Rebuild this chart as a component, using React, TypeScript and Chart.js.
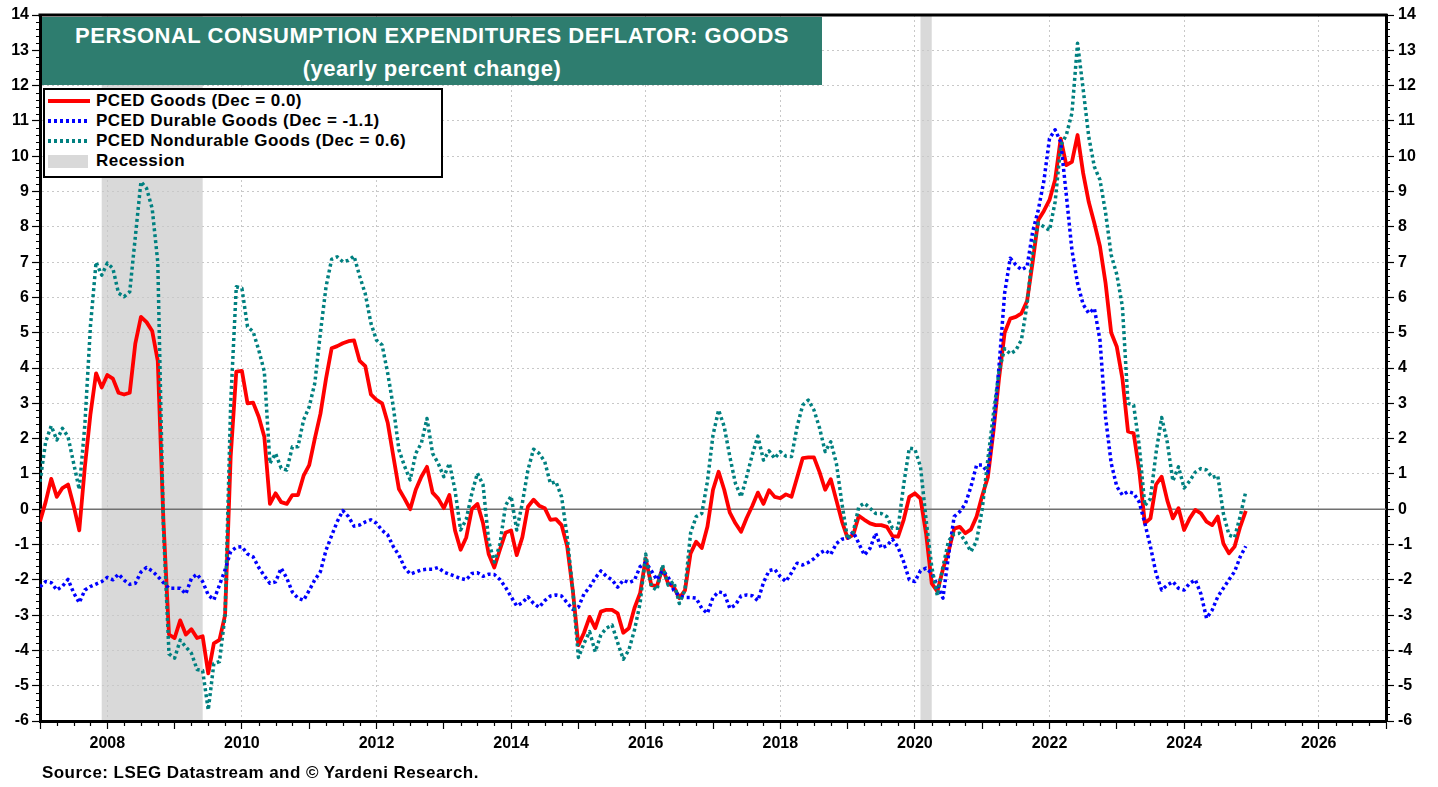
import React, { useEffect, useRef } from "react";
import { Chart, registerables } from "chart.js";

Chart.register(...registerables);

// ---- data (monthly, Jan 2007 .. Dec 2024) ----
const FIRST_YEAR = 2007;

const goods: number[] = [
  // 2007
  -0.35, 0.2, 0.86, 0.35, 0.6, 0.7, 0.1, -0.6, 1.2, 2.7, 3.85, 3.45,
  // 2008
  3.8, 3.7, 3.3, 3.25, 3.3, 4.7, 5.45, 5.3, 5.05, 4.2, -0.3, -3.55,
  // 2009
  -3.65, -3.15, -3.55, -3.4, -3.65, -3.6, -4.65, -3.8, -3.7, -3.0, 1.5, 3.9,
  // 2010
  3.92, 3.0, 3.02, 2.62, 2.05, 0.15, 0.45, 0.2, 0.15, 0.4, 0.4, 0.95,
  // 2011
  1.25, 2.0, 2.7, 3.7, 4.56, 4.62, 4.7, 4.76, 4.78, 4.2, 4.05, 3.25,
  // 2012
  3.1, 3.0, 2.45, 1.5, 0.57, 0.3, 0.0, 0.55, 0.92, 1.2, 0.47, 0.3,
  // 2013
  0.03, 0.4, -0.6, -1.15, -0.8, 0.0, 0.15, -0.4, -1.27, -1.65, -1.15, -0.67,
  // 2014
  -0.6, -1.3, -0.8, 0.07, 0.27, 0.1, 0.03, -0.3, -0.28, -0.45, -1.05, -2.3,
  // 2015
  -3.85, -3.5, -3.05, -3.37, -2.9, -2.85, -2.85, -2.95, -3.5, -3.37, -2.8, -2.38,
  // 2016
  -1.4, -2.15, -2.18, -1.67, -2.1, -2.2, -2.52, -2.3, -1.25, -0.92, -1.1, -0.5,
  // 2017
  0.55, 1.06, 0.55, -0.1, -0.4, -0.64, -0.25, 0.09, 0.47, 0.15, 0.54, 0.35,
  // 2018
  0.31, 0.42, 0.35, 0.9, 1.45, 1.47, 1.47, 1.05, 0.55, 0.85, 0.25, -0.35,
  // 2019
  -0.82, -0.73, -0.19, -0.3, -0.4, -0.45, -0.45, -0.5, -0.76, -0.78, -0.3, 0.35,
  // 2020
  0.45, 0.3, -0.7, -2.1, -2.33, -1.7, -1.2, -0.55, -0.5, -0.68, -0.57, -0.21,
  // 2021
  0.38, 0.9, 2.2, 3.7, 5.0, 5.4, 5.45, 5.55, 5.9, 7.0, 8.19, 8.45,
  // 2022
  8.76, 9.33, 10.5, 9.75, 9.84, 10.6, 9.52, 8.7, 8.1, 7.44, 6.4, 5.0,
  // 2023
  4.6, 3.7, 2.2, 2.15, 1.1, -0.4, -0.26, 0.7, 0.92, 0.25, -0.26, 0.03,
  // 2024
  -0.59, -0.26, -0.02, -0.12, -0.35, -0.45, -0.21, -0.97, -1.25, -1.06, -0.5, -0.05,
];

const durable: number[] = [
  // 2007
  -2.2, -2.05, -2.08, -2.29, -2.18, -1.99, -2.37, -2.65, -2.29, -2.19, -2.12, -2.05,
  // 2008
  -1.93, -2.0, -1.84, -2.01, -2.13, -2.1, -1.78, -1.65, -1.75, -1.9, -2.08, -2.24,
  // 2009
  -2.24, -2.24, -2.4, -1.96, -1.84, -2.05, -2.43, -2.57, -2.15, -1.72, -1.2, -1.08,
  // 2010
  -1.06, -1.27, -1.35, -1.65, -1.89, -2.1, -2.06, -1.67, -1.95, -2.35, -2.52, -2.58,
  // 2011
  -2.3, -2.0, -1.77, -1.16, -0.75, -0.35, -0.04, -0.21, -0.48, -0.45, -0.36, -0.3,
  // 2012
  -0.4, -0.6, -0.73, -1.06, -1.3, -1.65, -1.84, -1.78, -1.72, -1.7, -1.7, -1.65,
  // 2013
  -1.78, -1.84, -1.9, -1.96, -2.0, -1.82, -1.8, -1.9, -1.84, -1.85, -1.99, -2.21,
  // 2014
  -2.48, -2.74, -2.65, -2.48, -2.67, -2.78, -2.59, -2.46, -2.43, -2.46, -2.65, -2.84,
  // 2015
  -2.78, -2.4, -2.21, -1.95, -1.75, -1.9, -2.0, -2.21, -2.01, -2.08, -2.01, -1.63,
  // 2016
  -1.51, -1.74, -2.0, -1.74, -1.91, -2.3, -2.45, -2.5, -2.5, -2.52, -2.81, -2.95,
  // 2017
  -2.5, -2.34, -2.38, -2.81, -2.71, -2.46, -2.43, -2.45, -2.59, -2.08, -1.74, -1.7,
  // 2018
  -1.91, -2.05, -1.8, -1.53, -1.58, -1.51, -1.4, -1.25, -1.16, -1.28, -0.97, -0.85,
  // 2019
  -0.82, -0.64, -0.97, -1.3, -1.11, -0.68, -1.1, -1.04, -0.85, -1.08, -1.49, -2.0,
  // 2020
  -2.05, -1.74, -1.67, -1.82, -2.15, -2.52, -1.3, -0.21, -0.07, 0.15, 0.64, 1.25,
  // 2021
  1.25, 1.04, 2.3, 4.04, 6.12, 7.11, 6.92, 6.78, 6.87, 7.86, 8.48, 9.3,
  // 2022
  10.5, 10.75, 10.4, 8.9, 7.34, 6.4, 5.8, 5.55, 5.69, 4.79, 2.6, 1.3,
  // 2023
  0.64, 0.4, 0.5, 0.45, 0.2, -0.4, -1.06, -1.82, -2.29, -2.15, -2.05, -2.24,
  // 2024
  -2.29, -2.1, -2.0, -2.4, -3.09, -2.86, -2.48, -2.24, -2.0, -1.77, -1.35, -1.05,
];

const nondurable: number[] = [
  // 2007
  0.78, 1.9, 2.36, 1.96, 2.29, 2.05, 1.3, 0.56, 2.4, 5.2, 7.0, 6.63,
  // 2008
  6.97, 6.82, 6.12, 6.02, 6.16, 7.72, 9.28, 9.09, 8.52, 7.0, -0.5, -4.1,
  // 2009
  -4.22, -3.71, -3.9, -4.08, -4.54, -4.57, -5.69, -4.37, -4.32, -3.0, 3.0, 6.3,
  // 2010
  6.26, 5.17, 5.03, 4.51, 3.9, 1.3, 1.58, 1.16, 1.11, 1.77, 1.77, 2.53,
  // 2011
  2.9, 3.57, 5.0, 6.3, 7.08, 7.15, 7.01, 7.05, 7.17, 6.6, 6.1, 5.27,
  // 2012
  4.79, 4.65, 3.85, 2.9, 1.68, 1.22, 0.83, 1.58, 1.87, 2.57, 1.58, 1.3,
  // 2013
  0.92, 1.3, 0.54, -0.59, -0.29, 0.45, 1.02, 0.69, -0.9, -1.5, -1.0, 0.1,
  // 2014
  0.37, -0.59, 0.17, 1.11, 1.7, 1.58, 1.35, 0.73, 0.78, 0.35, -0.78, -2.3,
  // 2015
  -4.2, -3.8, -3.47, -4.04, -3.56, -3.37, -3.28, -3.78, -4.25, -3.99, -3.42, -2.67,
  // 2016
  -1.27, -2.19, -2.29, -1.58, -2.15, -2.05, -2.67, -2.29, -0.68, -0.21, -0.12, 0.78,
  // 2017
  2.1, 2.81, 2.34, 1.49, 0.73, 0.35, 0.92, 1.54, 2.07, 1.39, 1.65, 1.44,
  // 2018
  1.63, 1.5, 1.49, 2.34, 2.95, 3.09, 2.81, 2.3, 1.63, 1.91, 1.3, 0.15,
  // 2019
  -0.85, -0.65, 0.07, 0.17, 0.03, -0.12, -0.12, -0.21, -0.54, -0.54, 0.7, 1.73,
  // 2020
  1.7, 1.2, -0.3, -1.63, -2.45, -1.63, -0.9, -0.7, -0.68, -0.92, -1.2, -0.9,
  // 2021
  0.0, 1.4, 2.7, 3.9, 4.55, 4.4, 4.5, 4.8, 5.8, 7.3, 8.1, 8.0,
  // 2022
  7.9, 8.7, 10.3, 10.6, 11.22, 13.2, 11.9, 10.55, 9.7, 9.33, 8.4, 7.2,
  // 2023
  6.65, 5.74, 3.0, 2.95, 1.8, 0.1, 0.3, 1.6, 2.6, 1.9, 0.8, 1.2,
  // 2024
  0.6, 0.8, 1.05, 1.15, 1.11, 0.9, 0.95, -0.12, -0.73, -0.8, -0.2, 0.5,
];

const recessions: [number, number][] = [
  [2007.917, 2009.417],
  [2020.083, 2020.25],
];

const yearTicks: number[] = [];
for (let y = 2007; y <= 2027; y++) yearTicks.push(y);

const TITLE_1 = "PERSONAL CONSUMPTION EXPENDITURES DEFLATOR: GOODS";
const TITLE_2 = "(yearly percent change)";
const SOURCE = "Source: LSEG Datastream and \u00A9 Yardeni Research.";

const legendLabels = [
  "PCED Goods (Dec = 0.0)",
  "PCED Durable Goods (Dec = -1.1)",
  "PCED Nondurable Goods (Dec = 0.6)",
  "Recession",
];

const RED = "#ff0000";
const BLUE = "#0000ff";
const TEAL = "#008080";
const GRID = "#c8c8c8";
const FONT = "'Liberation Sans', Arial, Helvetica, sans-serif";

const toPoints = (arr: number[]) =>
  arr.map((v, i) => ({ x: FIRST_YEAR + i / 12, y: v }));

const decorPlugin = {
  id: "decor",
  beforeDraw(chart: any) {
    const { ctx, chartArea: a, scales } = chart;
    const x = scales.x;
    ctx.save();
    ctx.fillStyle = "#ffffff";
    ctx.fillRect(0, 0, chart.width, chart.height);
    ctx.fillStyle = "#d9d9d9";
    for (const [s, e] of recessions) {
      const x1 = x.getPixelForValue(s);
      const x2 = x.getPixelForValue(e);
      ctx.fillRect(x1, a.top, x2 - x1, a.bottom - a.top);
    }
    ctx.restore();
  },
  beforeDatasetsDraw(chart: any) {
    const { ctx, chartArea: a, scales } = chart;
    const y0 = scales.y.getPixelForValue(0);
    ctx.save();
    ctx.strokeStyle = "#707070";
    ctx.lineWidth = 1.5;
    ctx.beginPath();
    ctx.moveTo(a.left, y0);
    ctx.lineTo(a.right, y0);
    ctx.stroke();
    ctx.restore();
  },
  afterDraw(chart: any) {
    const { ctx, chartArea: a, scales } = chart;
    const x = scales.x;
    const y = scales.y;
    ctx.save();
    ctx.strokeStyle = "#000";
    ctx.lineWidth = 1.2;
    ctx.beginPath();
    // minor y ticks (0.2 units)
    for (let k = -30; k <= 70; k++) {
      if (k % 5 === 0) continue;
      const py = Math.round(y.getPixelForValue(k / 5)) + 0.5;
      ctx.moveTo(a.left - 4, py);
      ctx.lineTo(a.left, py);
      ctx.moveTo(a.right, py);
      ctx.lineTo(a.right + 4, py);
    }
    // minor x ticks (quarters)
    for (let q = 2007 * 4; q <= 2027 * 4; q++) {
      if (q % 4 === 0) continue;
      const px = Math.round(x.getPixelForValue(q / 4)) + 0.5;
      ctx.moveTo(px, a.bottom);
      ctx.lineTo(px, a.bottom + 5);
    }
    ctx.stroke();
    // top frame
    ctx.lineWidth = 3;
    ctx.beginPath();
    ctx.moveTo(a.left - 1.5, a.top);
    ctx.lineTo(a.right + 1.5, a.top);
    ctx.stroke();
    ctx.restore();
  },
};

function App() {
  const canvasRef = useRef<HTMLCanvasElement | null>(null);

  useEffect(() => {
    const canvas = canvasRef.current;
    if (!canvas) return;
    const tickFont = { family: FONT, size: 16, weight: "bold" as const };

    const yGridColor = (c: any) => {
      const v = c.tick ? c.tick.value : null;
      if (v === null || v === 0 || v === 14 || v === -6) return "rgba(0,0,0,0)";
      return GRID;
    };

    const chart = new Chart(canvas, {
      type: "line",
      data: {
        datasets: [
          {
            label: legendLabels[0],
            data: toPoints(goods),
            borderColor: RED,
            borderWidth: 3.8,
            borderJoinStyle: "round",
            pointRadius: 0,
            order: 3,
          },
          {
            label: legendLabels[1],
            data: toPoints(durable),
            borderColor: BLUE,
            borderWidth: 3.5,
            borderDash: [3, 3],
            borderJoinStyle: "round",
            pointRadius: 0,
            order: 2,
          },
          {
            label: legendLabels[2],
            data: toPoints(nondurable),
            borderColor: TEAL,
            borderWidth: 3.5,
            borderDash: [3, 3],
            borderJoinStyle: "round",
            pointRadius: 0,
            order: 1,
          },
        ],
      },
      options: {
        animation: false,
        responsive: false,
        events: [],
        layout: { padding: { top: 15, left: 0, right: 0, bottom: 0 } },
        plugins: {
          legend: { display: false },
          tooltip: { enabled: false },
          title: { display: false },
        },
        elements: { line: { tension: 0 }, point: { radius: 0 } },
        scales: {
          x: {
            type: "linear",
            position: "bottom",
            min: 2007,
            max: 2027,
            afterBuildTicks: (s: any) => {
              s.ticks = yearTicks.map((v) => ({ value: v }));
            },
            afterFit: (s: any) => {
              s.height = 66;
            },
            ticks: {
              autoSkip: false,
              maxRotation: 0,
              padding: 5,
              color: "#000",
              font: tickFont,
              callback: (v: any) =>
                Number(v) % 2 === 0 && v > 2007 && v < 2027 ? String(v) : "",
            },
            grid: {
              color: (c: any) => {
                const v = c.tick ? c.tick.value : null;
                return v !== null && v % 2 === 0 && v > 2007 && v < 2027
                  ? GRID
                  : "rgba(0,0,0,0)";
              },
              lineWidth: 1,
              tickColor: "#000",
              tickLength: 8,
              tickWidth: 1.2,
            },
            border: { display: true, color: "#000", width: 3, dash: [2, 3] },
          },
          y: {
            type: "linear",
            position: "left",
            min: -6,
            max: 14,
            afterFit: (s: any) => {
              s.width = 40;
            },
            ticks: {
              stepSize: 1,
              autoSkip: false,
              padding: 3,
              color: "#000",
              font: tickFont,
            },
            grid: {
              color: yGridColor,
              lineWidth: 1,
              tickColor: "#000",
              tickLength: 8,
              tickWidth: 1.2,
            },
            border: { display: true, color: "#000", width: 3, dash: [2, 3] },
          },
          yRight: {
            type: "linear",
            position: "right",
            min: -6,
            max: 14,
            afterFit: (s: any) => {
              s.width = 52;
            },
            ticks: {
              stepSize: 1,
              autoSkip: false,
              padding: 4,
              color: "#000",
              font: tickFont,
            },
            grid: {
              drawOnChartArea: false,
              tickColor: "#000",
              tickLength: 8,
              tickWidth: 1.2,
            },
            border: { display: true, color: "#000", width: 3 },
          },
        },
      } as any,
      plugins: [decorPlugin],
    });

    return () => {
      chart.destroy();
    };
  }, []);

  const legendRowTop = (i: number) => 91 + i * 20;

  const swatch = (i: number) => {
    if (i === 0)
      return (
        <svg width="42" height="18" style={{ display: "block" }}>
          <line x1="0" y1="9" x2="42" y2="9" stroke={RED} strokeWidth="4" />
        </svg>
      );
    if (i === 1 || i === 2)
      return (
        <svg width="42" height="18" style={{ display: "block" }}>
          <line
            x1="0"
            y1="9"
            x2="42"
            y2="9"
            stroke={i === 1 ? BLUE : TEAL}
            strokeWidth="4"
            strokeDasharray="3 3"
          />
        </svg>
      );
    return (
      <svg width="42" height="18" style={{ display: "block" }}>
        <rect x="0" y="3" width="40" height="13" fill="#d9d9d9" />
      </svg>
    );
  };

  return (
    <div
      style={{
        position: "absolute",
        left: 0,
        top: 0,
        width: 1438,
        height: 787,
        background: "#fff",
        fontFamily: FONT,
        overflow: "hidden",
      }}
    >
      <canvas
        ref={canvasRef}
        width={1438}
        height={787}
        style={{ position: "absolute", left: 0, top: 0, display: "block" }}
      />
      {/* title box */}
      <div
        style={{
          position: "absolute",
          left: 42,
          top: 17,
          width: 780,
          height: 68,
          background: "#2e7d6f",
          color: "#fff",
          fontWeight: "bold",
          fontSize: 22,
          letterSpacing: "0.5px",
          textAlign: "center",
        }}
      >
        <div style={{ position: "absolute", left: 0, right: 0, top: 7, lineHeight: "24px" }}>
          {TITLE_1}
        </div>
        <div style={{ position: "absolute", left: 0, right: 0, top: 40, lineHeight: "24px" }}>
          {TITLE_2}
        </div>
      </div>
      {/* legend box */}
      <div
        style={{
          position: "absolute",
          left: 43,
          top: 88,
          width: 400,
          height: 90,
          boxSizing: "border-box",
          border: "2px solid #000",
          background: "#fff",
        }}
      />
      {legendLabels.map((label, i) => (
        <React.Fragment key={label}>
          <div style={{ position: "absolute", left: 48, top: legendRowTop(i) + 1 }}>
            {swatch(i)}
          </div>
          <div
            style={{
              position: "absolute",
              left: 96,
              top: legendRowTop(i),
              lineHeight: "20px",
              fontSize: 17,
              letterSpacing: "0.45px",
              fontWeight: "bold",
              color: "#000",
              whiteSpace: "nowrap",
            }}
          >
            {label}
          </div>
        </React.Fragment>
      ))}
      {/* source */}
      <div
        style={{
          position: "absolute",
          left: 42,
          top: 763,
          lineHeight: "20px",
          fontSize: 17,
          letterSpacing: "0.45px",
          fontWeight: "bold",
          color: "#000",
          whiteSpace: "nowrap",
        }}
      >
        {SOURCE}
      </div>
    </div>
  );
}

export default App;
